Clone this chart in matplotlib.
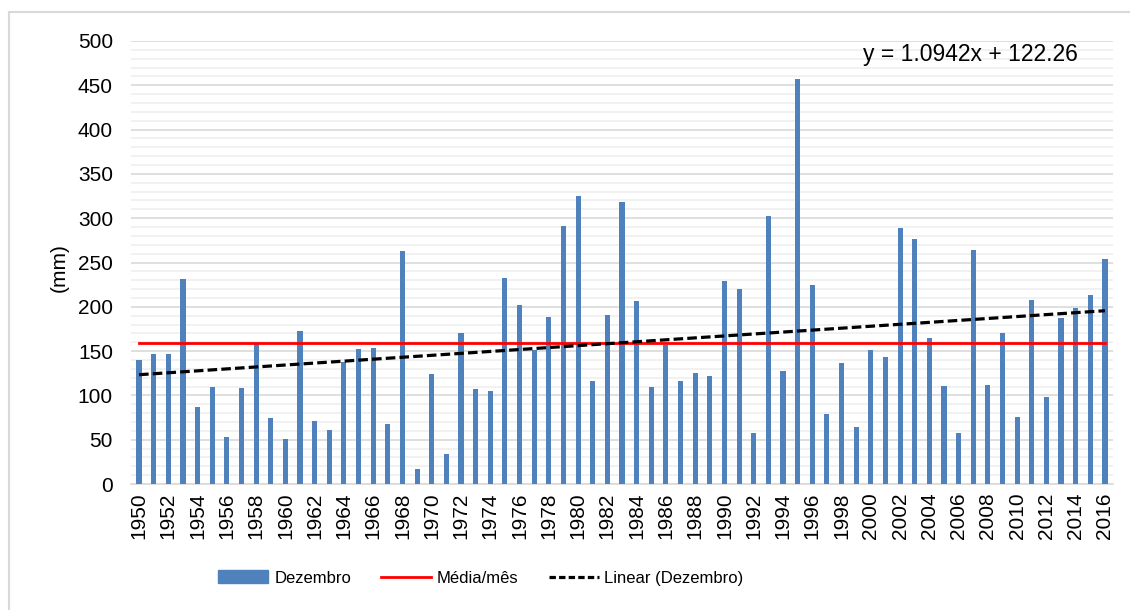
import matplotlib.pyplot as plt
from matplotlib.lines import Line2D
from matplotlib.patches import Patch
import numpy as np

plt.rcParams['font.family'] = ['Liberation Sans', 'DejaVu Sans']

anos = list(range(1950, 2017))
dezembro = [
    140, 147, 147, 231, 87, 110, 53, 108, 159, 74,
    51, 173, 71, 61, 138, 152, 153, 68, 263, 17,
    124, 34, 170, 107, 105, 233, 202, 151, 189, 291,
    325, 116, 191, 318, 207, 110, 157, 116, 125, 122,
    229, 220, 58, 303, 128, 457, 225, 79, 137, 64,
    151, 143, 289, 277, 165, 111, 57, 264, 112, 170,
    76, 208, 98, 187, 199, 213, 254,
]
inclinacao = 1.0942
intercepto = 122.26
rotulos_x = [str(a) for a in range(1950, 2017, 2)]

media = np.mean(dezembro)
x_idx = np.arange(1, len(anos) + 1)
tendencia = inclinacao * x_idx + intercepto

fig = plt.figure(figsize=(11.3, 6.1), dpi=100)
ax = fig.add_axes([131 / 1130, 1 - 484 / 610, 982 / 1130, 443 / 610])

ax.bar(anos, dezembro, width=0.35, color="#4f81bd", zorder=3)
ax.plot(anos, [media] * len(anos), color="#ff0000", lw=2, zorder=4)
ax.plot(anos, tendencia, color="black", lw=2.3, dashes=(3, 1.3), zorder=5)

ax.set_xlim(1949.45, 2016.55)
ax.set_ylim(0, 500)
ax.set_yticks(range(0, 501, 50))
ax.set_yticks(range(0, 501, 10), minor=True)
ax.set_xticks(range(1950, 2017, 2))
ax.set_xticklabels(rotulos_x, rotation=90)
ax.grid(axis="y", which="major", color="#d9d9d9", lw=1.2, zorder=0)
ax.grid(axis="y", which="minor", color="#efefef", lw=1.2, zorder=0)
ax.tick_params(axis="y", which="both", length=0, pad=13, labelsize=15)
ax.tick_params(axis="x", which="both", length=0, pad=6, labelsize=15)
for s in ["top", "right", "left"]:
    ax.spines[s].set_visible(False)
ax.spines["bottom"].set_color("#d9d9d9")
ax.spines["bottom"].set_linewidth(1.2)

fig.text(59 / 1130, 1 - 268 / 610, "(mm)", rotation=90, fontsize=15,
         ha="center", va="center")
fig.text(970 / 1130, 1 - 54 / 610, "y = 1.0942x + 122.26", fontsize=16.5,
         ha="center", va="center")

# moldura do grafico (so topo e esquerda aparecem)
fig.add_artist(Line2D([9 / 1130, 9 / 1130], [0, 1 - 12 / 610], color="#d9d9d9", lw=1.5))
fig.add_artist(Line2D([9 / 1130, 1], [1 - 12 / 610, 1 - 12 / 610], color="#d9d9d9", lw=1.5))

handles = [
    Patch(color="#4f81bd"),
    Line2D([], [], color="#ff0000", lw=2),
    Line2D([], [], color="black", lw=2.3, dashes=(2, 1)),
]
fig.legend(handles, ["Dezembro", "Média/mês", "Linear (Dezembro)"],
           loc="center", bbox_to_anchor=(481 / 1130, 1 - 578 / 610), ncol=3,
           frameon=False, fontsize=12, handlelength=3.0, handleheight=0.8,
           columnspacing=1.8, handletextpad=0.35)

fig.savefig("out.png", dpi=100)
